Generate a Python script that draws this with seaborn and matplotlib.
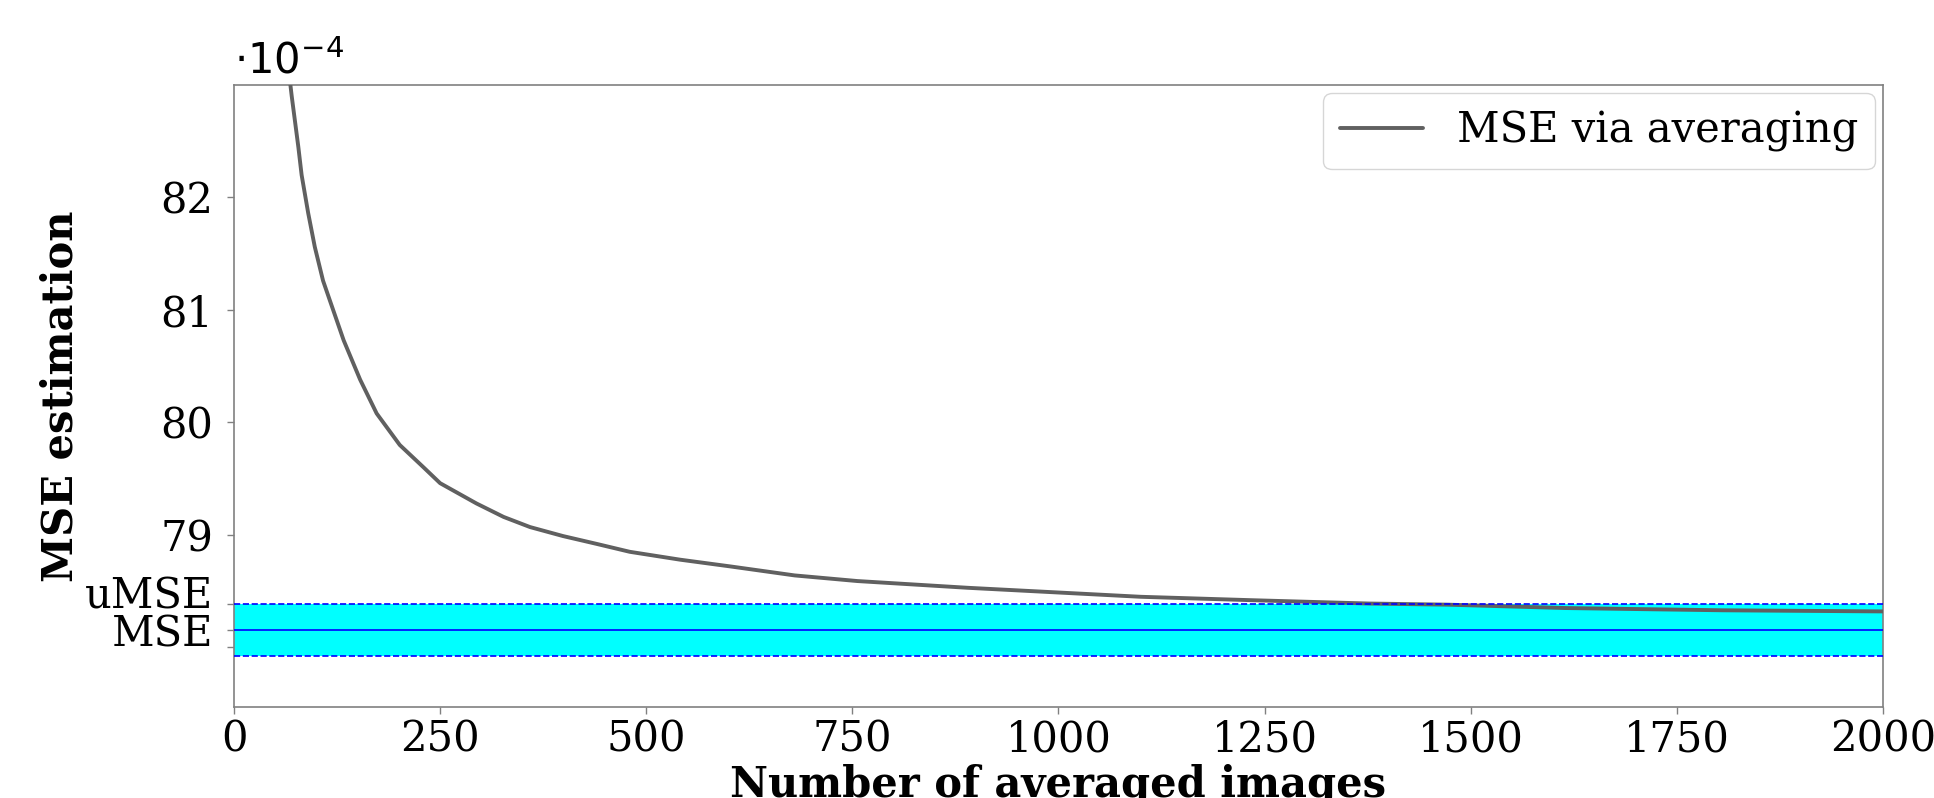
import matplotlib
matplotlib.use("Agg")
import matplotlib.pyplot as plt
import seaborn as sns
import pandas as pd

# values (y in units of 1e-4)
n_images = [66, 70, 78, 82, 90, 98, 108, 116, 133, 153, 173, 201, 230, 250,
            294, 327, 359, 399, 440, 480, 541, 602, 680, 756, 890, 1100,
            1233, 1377, 1472, 1615, 1806, 2000]
mse_avg = [83.15, 82.9, 82.45, 82.2, 81.86, 81.56, 81.26, 81.09, 80.73,
           80.38, 80.08, 79.80, 79.60, 79.46, 79.28, 79.16, 79.07, 78.99,
           78.92, 78.85, 78.78, 78.72, 78.64, 78.59, 78.53, 78.45, 78.42,
           78.39, 78.38, 78.35, 78.33, 78.32]
mse_true = 78.156
mse_band = 0.23
x_range = [0, 2000]
xticks = [0, 250, 500, 750, 1000, 1250, 1500, 1750, 2000]
yticks = [78, 79, 80, 81, 82]

sns.set_theme(style="white")
plt.rcParams["font.family"] = ["DejaVu Serif"]
plt.rcParams["mathtext.fontset"] = "dejavusans"
plt.rcParams["text.color"] = "black"
plt.rcParams["axes.labelcolor"] = "black"

df = pd.DataFrame({"n": n_images, "mse": mse_avg})

fig = plt.figure(figsize=(19.34, 7.98), dpi=100)
ax = fig.add_axes([0.121, 0.114, 0.8526, 0.7795])

# uncertainty band around the true MSE
upper = mse_true + mse_band
lower = mse_true - mse_band
ax.fill_between(x_range, [lower, lower], [upper, upper], color="cyan", lw=0, zorder=1)

sns.lineplot(data=df, x="n", y="mse", ax=ax, color="#606060", lw=2.8,
             label="MSE via averaging", zorder=3)

ax.axhline(mse_true, color="blue", lw=1.2, zorder=4)
ax.axhline(upper, color="blue", lw=1.2, ls="--", zorder=4)
ax.axhline(lower, color="blue", lw=1.2, ls="--", zorder=4)

ax.set_xlim(0, 2000)
ax.set_ylim(77.47, 83.0)
ax.set_xticks(xticks)
ax.set_xticklabels([str(t) for t in xticks], fontsize=30)

# major ticks: numbers, uMSE line (label shifted up via a minor tick), MSE line
ax.set_yticks(yticks + [upper, mse_true])
ax.set_yticklabels([""] + [str(t) for t in yticks[1:]] + ["", "MSE"], fontsize=30)
ax.set_yticks([upper + 0.105], minor=True)
ax.set_yticklabels(["uMSE"], minor=True, fontsize=30)

ax.tick_params(axis="both", which="major", length=5, width=1, color="gray",
               labelcolor="black", direction="out", left=True, bottom=True)
ax.tick_params(axis="y", which="major", pad=10)
ax.tick_params(axis="y", which="minor", length=0, pad=15, left=True,
               labelcolor="black")
for s in ax.spines.values():
    s.set_color("gray")
    s.set_linewidth(1.2)

ax.set_xlabel("Number of averaged images", fontsize=30, fontweight="bold", labelpad=2)
ax.set_ylabel("MSE estimation", fontsize=30, fontweight="bold")
ax.yaxis.set_label_coords(-0.0922, 0.5)

ax.text(0.0, 1.018, r"$\cdot 10^{-4}$", transform=ax.transAxes, fontsize=30,
        va="baseline", ha="left")

ax.legend(loc="upper right", fontsize=30, borderaxespad=0.2, fancybox=True)

fig.savefig("out.png", dpi=100)
